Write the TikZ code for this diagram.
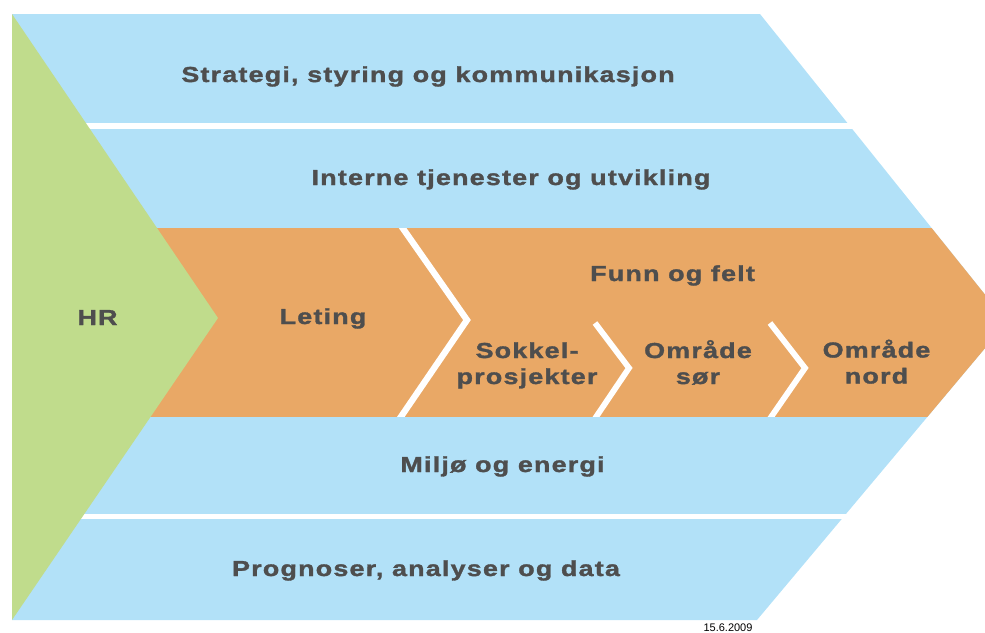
\documentclass[tikz,border=0pt]{standalone}
\usepackage{fontspec}
\setmainfont{Liberation Sans}
\newfontfamily\lblfont[FakeStretch=1.24,LetterSpace=5.5,FakeBold=1.5]{Liberation Sans Bold}
\definecolor{bandblue}{HTML}{B2E1F8}
\definecolor{bandorange}{HTML}{E9A866}
\definecolor{hrgreen}{HTML}{C0DC8C}
\definecolor{txt}{HTML}{4E4E4E}
\tikzset{
  lbl/.style={text=txt, font=\lblfont\fontsize{21.7}{26}\selectfont, anchor=base, inner sep=0pt, align=center},
  sepline/.style={draw=white, line width=6.3pt, miter limit=10, line join=miter},
}
\begin{document}
\begin{tikzpicture}[x=1pt,y=-1pt]
\useasboundingbox (0,0) rectangle (985,632);
% main chevron
\fill[bandblue] (12,14) -- (760,14) -- (1007,322) -- (757,620) -- (12,620) -- cycle;
% white gaps between blue bands
\fill[white] (12,123) rectangle (1100,129);
\fill[white] (12,514) rectangle (1100,519);
% orange band
\begin{scope}
  \clip (0,228) rectangle (1100,416);
  \fill[bandorange] (12,14) -- (760,14) -- (1007,322) -- (757,620) -- (12,620) -- cycle;
  \draw[sepline] (397,220) -- (467,320) -- (396,424);
  \draw[sepline, line width=5.8pt] (595,323) -- (629,368) -- (594,420);
  \draw[sepline, line width=5.8pt] (770,323) -- (805,368) -- (769,420);
\end{scope}
% HR triangle
\fill[hrgreen] (12,14) -- (218,318) -- (12,620) -- cycle;
% labels
\node[lbl] (strat) at (428,82) {Strategi, styring og kommunikasjon};
\node[lbl] (intern) at (511,185) {Interne tjenester og utvikling};
\node[lbl] (hr) at (97.5,325) {HR};
\node[lbl] (leting) at (323,324) {Leting};
\node[lbl] (funn) at (672.5,281) {Funn og felt};
\node[lbl] (sokkel) at (527,384) {Sokkel-\\prosjekter};
\node[lbl] (sor) at (698,384) {Område\\sør};
\node[lbl] (nord) at (876.5,383.5) {Område\\nord};
\node[lbl] (miljo) at (502.5,472) {Miljø og energi};
\node[lbl] (progn) at (426,576) {Prognoser, analyser og data};
\node[anchor=base, inner sep=0pt, font=\fontsize{11}{13}\selectfont] (date) at (728,631) {15.6.2009};
\end{tikzpicture}
\end{document}
